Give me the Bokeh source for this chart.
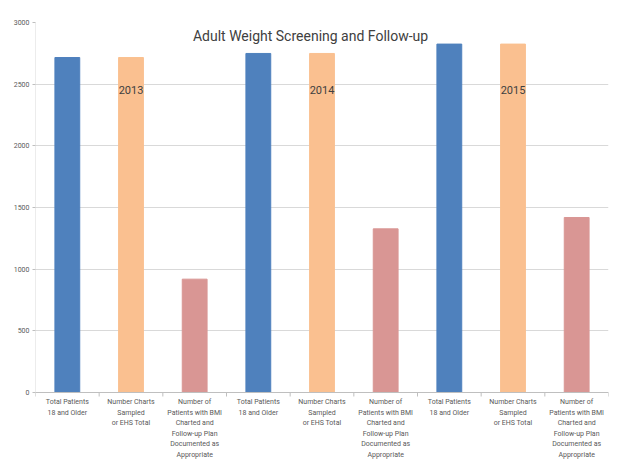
from bokeh.plotting import figure
from bokeh.models import Range1d, FixedTicker, Label, ColumnDataSource
from bokeh.embed import file_html
from bokeh.resources import INLINE
from bokeh.core.properties import value

# Chart data
years = ["2013", "2014", "2015"]
measures = [
    "Total Patients\n18 and Older",
    "Number Charts\nSampled\nor EHS Total",
    "Number of\nPatients with BMI\nCharted and\nFollow-up Plan\nDocumented as\nAppropriate",
]
total_patients = [2716, 2749, 2825]
charts_sampled = [2716, 2749, 2825]
bmi_documented = [919, 1327, 1419]
y_ticks = [0, 500, 1000, 1500, 2000, 2500, 3000]

colors = ["#4F81BD", "#FAC090", "#D99694"]
FONT = "Roboto"
AXIS_GREY = "#bfbfbf"
GRID_GREY = "#d9d9d9"

# One slot per (year, measure) pair, in year order
xs, tops, fills, names = [], [], [], []
series = [total_patients, charts_sampled, bmi_documented]
for yi, yr in enumerate(years):
    for mi, m in enumerate(measures):
        idx = yi * len(measures) + mi
        xs.append(idx + 0.5)
        tops.append(series[mi][yi])
        fills.append(colors[mi])
        names.append(m)

n = len(xs)
y_max = y_ticks[-1]

# The frame runs below zero so the category labels can sit inside it
PX_PER_UNIT = 370 / y_max
BELOW_PX = 74
y_min = -BELOW_PX / PX_PER_UNIT

p = figure(width=621, height=466, output_backend="svg", toolbar_location=None,
           x_range=Range1d(0, n), y_range=Range1d(y_min, y_max),
           min_border_left=35, min_border_right=13, min_border_top=22,
           min_border_bottom=0)
p.outline_line_color = None
p.background_fill_color = "white"
p.border_fill_color = "white"
p.xaxis.visible = False
p.xgrid.grid_line_color = None
p.ygrid.grid_line_color = GRID_GREY
p.ygrid.ticker = FixedTicker(ticks=y_ticks)

src = ColumnDataSource(dict(x=xs, top=tops, color=fills))
p.vbar(x="x", top="top", width=0.39, bottom=0, source=src,
       fill_color="color", line_color="color", line_width=1)

# Value axis spine (0..max) and category baseline with boundary ticks
p.segment(x0=[0], y0=[0], x1=[0], y1=[y_max], line_color=GRID_GREY, line_width=1)
p.segment(x0=[0], y0=[0], x1=[n], y1=[0], line_color=AXIS_GREY, line_width=1)
bounds = list(range(n + 1))
tick_len = 4 / PX_PER_UNIT
p.segment(x0=bounds, y0=[0] * len(bounds), x1=bounds, y1=[-tick_len] * len(bounds),
          line_color=AXIS_GREY, line_width=1)

# Category labels under each bar, one line at a time
LINE_STEP = 10.5 / PX_PER_UNIT
FIRST_LINE = -9.5 / PX_PER_UNIT
lx, ly, lt = [], [], []
for x, name in zip(xs, names):
    for li, line in enumerate(name.split("\n")):
        lx.append(x)
        ly.append(FIRST_LINE - li * LINE_STEP)
        lt.append(line)
p.text(x=lx, y=ly, text=lt, text_font=value(FONT), text_font_size="7px",
       text_color="#595959", text_align="center", text_baseline="middle")

# Year labels over the middle bar of each group
year_x = [i * len(measures) + 1.5 for i in range(len(years))]
p.text(x=year_x, y=[2455] * len(years), text=years,
       text_font=value(FONT), text_font_size="11px", text_color="#404040",
       text_align="center", text_baseline="middle")

p.add_layout(Label(x=4.32, y=2892, text="Adult Weight Screening and Follow-up",
                   text_font=FONT, text_font_size="14px", text_color="#404040",
                   text_align="center", text_baseline="middle"))

yax = p.yaxis[0]
yax.ticker = FixedTicker(ticks=y_ticks)
yax.minor_tick_line_color = None
yax.major_tick_out = 3
yax.major_tick_in = 0
yax.major_tick_line_color = AXIS_GREY
yax.axis_line_color = None
yax.major_label_text_font = FONT
yax.major_label_text_font_size = "7px"
yax.major_label_text_color = "#595959"
yax.major_label_standoff = 3

open("out.html", "w").write(file_html(p, INLINE))
